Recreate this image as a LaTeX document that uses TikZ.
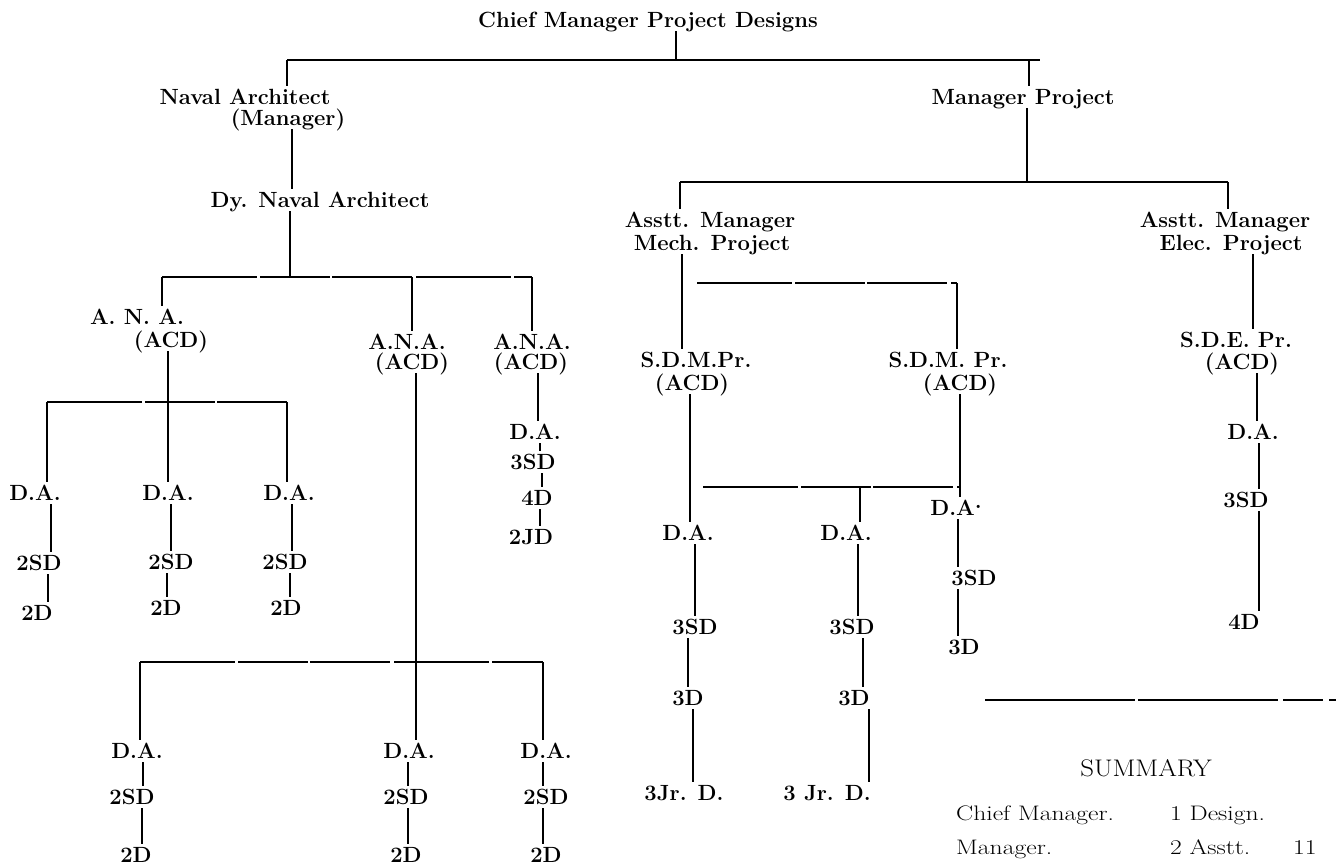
\documentclass[tikz,border=0pt]{standalone}
\usepackage{fontspec}
\newcommand\vcon[3]{\draw[ln] ([xshift=#3]#2.north) -- ([xshift=#3]#2.north |- #1.south);}
\newcommand\wide[1]{\scalebox{1.22}[1]{#1}}
\begin{document}
\begin{tikzpicture}[x=1pt,y=-1pt,
  lab/.style={font=\fontsize{22}{24}\selectfont\bfseries, inner sep=3.5pt, text height=15pt, text depth=0pt},
  sm/.style={font=\fontsize{21}{24}\selectfont, inner sep=0pt, text height=14pt, text depth=0pt, anchor=west},
  ln/.style={line width=1.9pt},
  brk/.style={dash pattern=on 95pt off 3pt on 70pt off 2pt on 80pt off 4pt}]
\fill[white] (0,0) rectangle (1336,867);
\useasboundingbox (0,0) rectangle (1336,867);

% ---- top levels
\node[lab] (chief) at (648,20) {Chief Manager Project Designs};
\node[lab] (na1) at (245,97) {Naval Architect};
\node[lab] (na2) at (288,118) {(Manager)};
\node[lab] (dna) at (320,200) {Dy. Naval Architect};
\node[lab] (mp) at (1023,97) {Manager Project};
\node[lab] (amm1) at (710,220) {Asstt. Manager};
\node[lab] (amm2) at (712,243) {Mech. Project};
\node[lab] (ame1) at (1225,220) {Asstt. Manager};
\node[lab] (ame2) at (1231,243) {Elec. Project};

\coordinate (topL) at (287,60);
\coordinate (topR) at (1040,60);
\draw[ln] (topL) -- (topR);
\draw[ln] ([xshift=28pt]chief.south) -- ([xshift=28pt]chief.south |- topL);
\draw[ln] (topL) -- (topL |- na1.north);
\draw[ln] ([xshift=6pt]mp.north |- topR) -- ([xshift=6pt]mp.north);
\vcon{na2}{dna}{-28pt}

\coordinate (b5L) at (680,182);
\coordinate (b5R) at (1228,182);
\draw[ln] (b5L) -- (b5R);
\draw[line width=2.8pt] ([xshift=4pt]mp.south) -- ([xshift=4pt]mp.south |- b5L);
\draw[ln] (b5L) -- (b5L |- amm1.north);
\draw[ln] (b5R) -- (b5R |- ame1.north);

% ---- Naval Architect branch
\node[lab] (ana1) at (137,317) {A. N. A.};
\node[lab] (ana1b) at (171,340) {(ACD)};
\node[lab] (ana2) at (407,342) {A.N.A.};
\node[lab] (ana2b) at (412,362) {(ACD)};
\node[lab] (ana3) at (532,342) {A.N.A.};
\node[lab] (ana3b) at (531,362) {(ACD)};

\coordinate (anaL) at (162,277);
\coordinate (anaR) at (532,277);
\draw[ln] ([xshift=-30pt]dna.south) -- ([xshift=-30pt]dna.south |- anaL);
\draw[ln,brk] (anaL) -- (anaR);
\draw[ln] (anaL) -- (anaL |- ana1.north);
\draw[ln] ([xshift=5pt]ana2.north |- anaL) -- ([xshift=5pt]ana2.north);
\draw[ln] (anaR) -- (anaR |- ana3.north);

% left group
\node[lab] (da1) at (35,493) {D.A.};
\node[lab] (da2) at (168,493) {D.A.};
\node[lab] (da3) at (289,493) {D.A.};
\node[lab] (sd1) at (39,563) {2SD};
\node[lab] (sd2) at (171,562) {2SD};
\node[lab] (sd3) at (285,562) {2SD};
\node[lab] (d1) at (37,613) {2D};
\node[lab] (d2) at (166,608) {2D};
\node[lab] (d3) at (286,608) {2D};
\coordinate (b1L) at (47,402);
\coordinate (b1R) at (287,402);
\draw[ln] ([xshift=-3pt]ana1b.south) -- ([xshift=-3pt]ana1b.south |- b1L);
\draw[ln,brk] (b1L) -- (b1R);
\draw[ln] (b1L) -- (b1L |- da1.north);
\draw[ln] (da2.north |- b1L) -- (da2.north);
\draw[ln] (b1R) -- (b1R |- da3.north);
\vcon{da1}{sd1}{12pt}
\vcon{sd1}{d1}{11pt}
\vcon{da2}{sd2}{0pt}
\vcon{sd2}{d2}{1pt}
\vcon{da3}{sd3}{7pt}
\vcon{sd3}{d3}{4pt}

% right small column
\node[lab] (da4) at (535,432) {D.A.};
\node[lab] (sd4) at (533,462) {3SD};
\node[lab] (d4a) at (537,498) {4D};
\node[lab] (jd4) at (531,537) {2JD};
\vcon{ana3b}{da4}{3pt}
\vcon{da4}{sd4}{7pt}
\vcon{sd4}{d4a}{5pt}
\vcon{d4a}{jd4}{9pt}

% bottom group
\node[lab] (da5) at (137,751) {D.A.};
\node[lab] (da6) at (409,751) {D.A.};
\node[lab] (da7) at (546,751) {D.A.};
\node[lab] (sd5) at (132,797) {2SD};
\node[lab] (sd6) at (406,797) {2SD};
\node[lab] (sd7) at (546,797) {2SD};
\node[lab] (d5) at (136,855) {2D};
\node[lab] (d6) at (406,855) {2D};
\node[lab] (d7) at (546,855) {2D};
\coordinate (b2L) at (140,662);
\coordinate (b2R) at (543,662);
\draw[ln] ([xshift=4pt]ana2b.south) -- ([xshift=4pt]ana2b.south |- da6.north);
\draw[ln,brk] (b2L) -- (b2R);
\draw[ln] (b2L) -- (b2L |- da5.north);
\draw[ln] (b2R) -- (b2R |- da7.north);
\vcon{da5}{sd5}{11pt}
\vcon{sd5}{d5}{6pt}
\vcon{da6}{sd6}{2pt}
\vcon{sd6}{d6}{2pt}
\vcon{da7}{sd7}{-3pt}
\vcon{sd7}{d7}{-3pt}

% ---- Mech. project branch
\node[lab] (sdm1) at (696,360) {S.D.M.Pr.};
\node[lab] (sdm1b) at (692,383) {(ACD)};
\node[lab] (sdm2) at (948,360) {S.D.M. Pr.};
\node[lab] (sdm2b) at (960,383) {(ACD)};
\vcon{amm2}{sdm1}{-14pt}
\coordinate (b3L) at (697,283);
\coordinate (b3R) at (957,283);
\draw[ln,brk] (b3L) -- (b3R);
\draw[ln] (b3R) -- (b3R |- sdm2.north);

\node[lab] (da8) at (688,533) {D.A.};
\node[lab] (da9) at (846,533) {D.A.};
\node[lab] (da10) at (956,508) {D.A\raisebox{0.3em}{.}};
\node[lab] (sd8) at (695,627) {3SD};
\node[lab] (sd9) at (852,627) {3SD};
\node[lab] (sd10) at (974,578) {3SD};
\node[lab] (d8) at (688,698) {3D};
\node[lab] (d9) at (854,698) {3D};
\node[lab] (d10) at (964,647) {3D};
\node[lab] (jr8) at (684,793) {3Jr. D.};
\node[lab] (jr9) at (827,793) {3 Jr. D.};
\vcon{sdm1b}{da8}{2pt}
\vcon{sdm2b}{da10}{4pt}
\coordinate (b4L) at (703,487);
\coordinate (b4M) at (860,487);
\coordinate (b4R) at (960,487);
\draw[ln,brk] (b4L) -- (b4R);
\draw[ln] (b4M) -- (b4M |- da9.north);
\vcon{da8}{sd8}{0pt}
\vcon{sd8}{d8}{0pt}
\vcon{d8}{jr8}{9pt}
\vcon{da9}{sd9}{6pt}
\vcon{sd9}{d9}{9pt}
\vcon{d9}{jr9}{42pt}
\vcon{da10}{sd10}{-16pt}
\vcon{sd10}{d10}{-6pt}

% ---- Elec. project branch
\node[lab] (sde1) at (1236,340) {S.D.E. Pr.};
\node[lab] (sde2) at (1242,362) {(ACD)};
\node[lab] (da11) at (1253,432) {D.A.};
\node[lab] (sd11) at (1246,500) {3SD};
\node[lab] (d11) at (1244,622) {4D};
\vcon{ame2}{sde1}{17pt}
\vcon{sde2}{da11}{4pt}
\vcon{da11}{sd11}{13pt}
\vcon{sd11}{d11}{15pt}

% ---- summary
\coordinate (sL) at (985,700);
\coordinate (sR) at (1336,700);
\draw[line width=1.7pt,dash pattern=on 150pt off 3pt on 140pt off 5pt on 40pt off 6pt] (sL) -- (sR);
\node[font=\fontsize{24}{28}\selectfont, inner sep=0pt] (sum) at (1146,768) {\scalebox{1.12}[1]{SUMMARY}};
\node[sm] (r1a) at (956,813) {\wide{Chief Manager.}};
\node[sm] (r1b) at (1170,813) {\wide{1 Design.}};
\node[sm] (r2a) at (956,847) {\wide{Manager.}};
\node[sm] (r2b) at (1170,847) {\wide{2 Asstt.}};
\node[sm] (r2c) at (1293,847) {\wide{11}};
\end{tikzpicture}
\end{document}
